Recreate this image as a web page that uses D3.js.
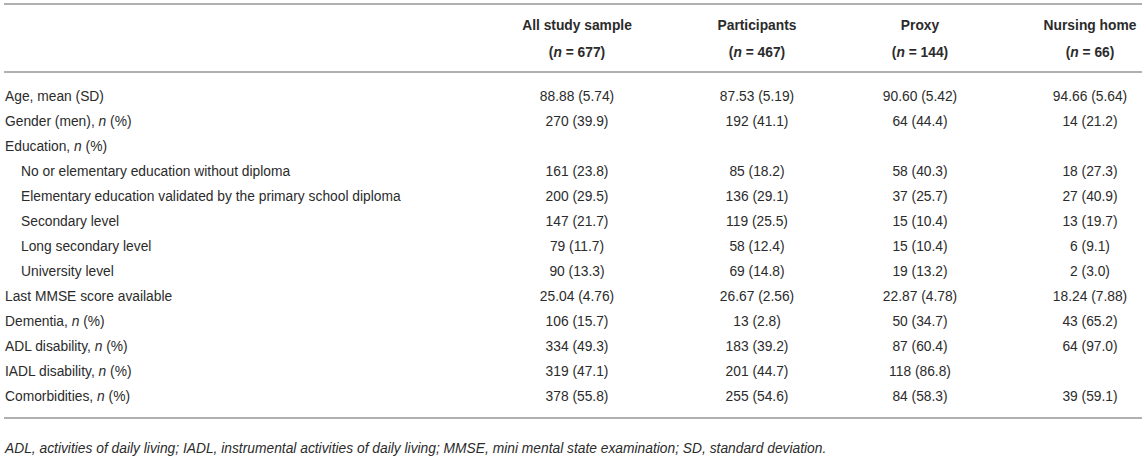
<!DOCTYPE html>
<html>
<head>
<meta charset="utf-8">
<script src="https://cdn.jsdelivr.net/npm/d3@7"></script>
<style>
  html, body { margin: 0; padding: 0; background: #fff; }
  svg { display: block; font-family: "Liberation Sans", Arial, Helvetica, sans-serif; }
</style>
</head>
<body>
<svg id="table"></svg>
<script>
// *x* marks italic runs
const headers = ['All study sample', 'Participants', 'Proxy', 'Nursing home']
const groupSizes = ['(*n* = 677)', '(*n* = 467)', '(*n* = 144)', '(*n* = 66)']

const rowLabels = [
  'Age, mean (SD)',
  'Gender (men), *n* (%)',
  'Education, *n* (%)',
  'No or elementary education without diploma',
  'Elementary education validated by the primary school diploma',
  'Secondary level',
  'Long secondary level',
  'University level',
  'Last MMSE score available',
  'Dementia, *n* (%)',
  'ADL disability, *n* (%)',
  'IADL disability, *n* (%)',
  'Comorbidities, *n* (%)'
]
const indented = [false, false, false, true, true, true, true, true, false, false, false, false, false]

const allSample = ['88.88 (5.74)', '270 (39.9)', '', '161 (23.8)', '200 (29.5)', '147 (21.7)', '79 (11.7)', '90 (13.3)', '25.04 (4.76)', '106 (15.7)', '334 (49.3)', '319 (47.1)', '378 (55.8)']
const participants = ['87.53 (5.19)', '192 (41.1)', '', '85 (18.2)', '136 (29.1)', '119 (25.5)', '58 (12.4)', '69 (14.8)', '26.67 (2.56)', '13 (2.8)', '183 (39.2)', '201 (44.7)', '255 (54.6)']
const proxy = ['90.60 (5.42)', '64 (44.4)', '', '58 (40.3)', '37 (25.7)', '15 (10.4)', '15 (10.4)', '19 (13.2)', '22.87 (4.78)', '50 (34.7)', '87 (60.4)', '118 (86.8)', '84 (58.3)']
const nursingHome = ['94.66 (5.64)', '14 (21.2)', '', '18 (27.3)', '27 (40.9)', '13 (19.7)', '6 (9.1)', '2 (3.0)', '18.24 (7.88)', '43 (65.2)', '64 (97.0)', '', '39 (59.1)']

const footnote = '*ADL, activities of daily living; IADL, instrumental activities of daily living; MMSE, mini mental state examination; SD, standard deviation.*'

const width = 1146
const height = 461
const fontSize = 13.8
const textColor = '#2b2b2b'
const ruleColor = '#b0b0b0'

const svg = d3.select('#table')
  .attr('width', width)
  .attr('height', height)

const columns = [allSample, participants, proxy, nursingHome]

const x = d3.scaleOrdinal()
  .domain(headers)
  .range([577, 757, 920, 1090])

const y = d3.scaleBand()
  .domain(d3.range(rowLabels.length))
  .range([83.5, 408.5])

// write a string with *italic* runs into a text element
function rich(sel, str) {
  str.split('*').forEach((part, i) => {
    if (!part) return
    sel.append('tspan')
      .attr('font-style', i % 2 ? 'italic' : null)
      .text(part)
  })
}

// rules
const rules = [4, 72, 418]
svg.selectAll('line.rule')
  .data(rules)
  .enter().append('line')
    .attr('class', 'rule')
    .attr('x1', 4)
    .attr('x2', 1142)
    .attr('y1', d => d)
    .attr('y2', d => d)
    .attr('stroke', ruleColor)
    .attr('stroke-width', 2)

// header
const head = svg.append('g')
  .attr('font-size', fontSize)
  .attr('font-weight', 'bold')
  .attr('fill', textColor)
  .attr('text-anchor', 'middle')

head.selectAll('text.h1')
  .data(headers)
  .enter().append('text')
    .attr('class', 'h1')
    .attr('x', d => x(d))
    .attr('y', 25)
    .attr('dy', '0.35em')
    .text(d => d)

head.selectAll('text.h2')
  .data(groupSizes)
  .enter().append('text')
    .attr('class', 'h2')
    .attr('x', (d, i) => x(headers[i]))
    .attr('y', 52)
    .attr('dy', '0.35em')
    .each(function (d) { rich(d3.select(this), d) })

// body
const body = svg.append('g')
  .attr('font-size', fontSize)
  .attr('fill', textColor)

body.selectAll('text.label')
  .data(rowLabels)
  .enter().append('text')
    .attr('class', 'label')
    .attr('x', (d, i) => indented[i] ? 21 : 5)
    .attr('y', (d, i) => y(i) + y.bandwidth() / 2)
    .attr('dy', '0.35em')
    .each(function (d) { rich(d3.select(this), d) })

columns.forEach((col, c) => {
  body.append('g')
    .attr('text-anchor', 'middle')
    .selectAll('text')
    .data(col)
    .enter().append('text')
      .attr('x', x(headers[c]))
      .attr('y', (d, i) => y(i) + y.bandwidth() / 2)
      .attr('dy', '0.35em')
      .text(d => d)
})

// footnote
svg.append('text')
  .attr('x', 5)
  .attr('y', 448)
  .attr('dy', '0.35em')
  .attr('font-size', fontSize)
  .attr('fill', textColor)
  .each(function () { rich(d3.select(this), footnote) })
</script>
</body>
</html>
